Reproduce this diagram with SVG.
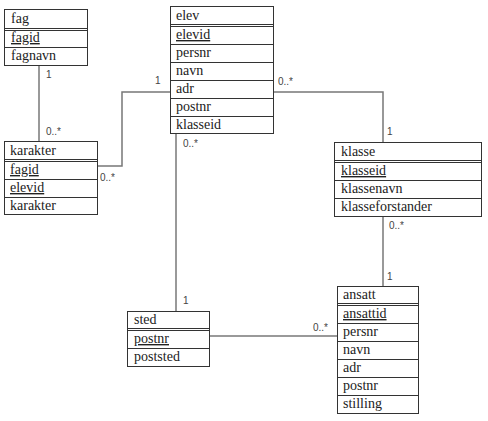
<svg xmlns="http://www.w3.org/2000/svg" width="488" height="421" viewBox="0 0 488 421">
<style>
.box{fill:#fff;stroke:#333;stroke-width:1}
.sep{stroke:#333;stroke-width:1;fill:none}
.t{font-family:"Liberation Serif","Times New Roman",serif;font-size:14px;fill:#222}
.u{text-decoration:underline}
.c{stroke:#777;stroke-width:1.5;fill:none}
.m{font-family:"Liberation Sans",Arial,sans-serif;font-size:10px;fill:#444}
</style>
<rect width="488" height="421" fill="#fff"/>
<g id="connectors">
<path class="c" d="M39 65V141"/>
<path class="c" d="M97 166H122V92H170"/>
<path class="c" d="M273 92H383V142"/>
<path class="c" d="M383 216V286"/>
<path class="c" d="M176 134V311"/>
<path class="c" d="M209 336H337"/>
<text class="m" x="46" y="78">1</text>
<text class="m" x="46" y="135">0..*</text>
<text class="m" x="155" y="84">1</text>
<text class="m" x="100" y="181">0..*</text>
<text class="m" x="183" y="147">0..*</text>
<text class="m" x="278" y="85">0..*</text>
<text class="m" x="387" y="135">1</text>
<text class="m" x="389" y="229">0..*</text>
<text class="m" x="387" y="280">1</text>
<text class="m" x="183" y="304">1</text>
<text class="m" x="313" y="331">0..*</text>
</g>
<g id="fag">
<rect class="box" x="4.5" y="9.5" width="83" height="56"/>
<path class="sep" d="M4.5 28.5H87.5M4.5 30.5H87.5M4.5 47.5H87.5"/>
<text class="t" x="11" y="23">fag</text>
<text class="t u" x="11" y="42">fagid</text>
<text class="t" x="11" y="60">fagnavn</text>
</g>
<g id="elev">
<rect class="box" x="170.5" y="6.5" width="103" height="127"/>
<path class="sep" d="M170.5 24.5H273.5M170.5 26.5H273.5M170.5 44.5H273.5M170.5 62.5H273.5M170.5 80.5H273.5M170.5 98.5H273.5M170.5 116.5H273.5"/>
<text class="t" x="176" y="20">elev</text>
<text class="t u" x="176" y="39">elevid</text>
<text class="t" x="176" y="57">persnr</text>
<text class="t" x="176" y="75">navn</text>
<text class="t" x="176" y="93">adr</text>
<text class="t" x="176" y="111">postnr</text>
<text class="t" x="176" y="129">klasseid</text>
</g>
<g id="karakter">
<rect class="box" x="4.5" y="141.5" width="93" height="73"/>
<path class="sep" d="M4.5 159.5H97.5M4.5 161.5H97.5M4.5 179.5H97.5M4.5 197.5H97.5"/>
<text class="t" x="10" y="155">karakter</text>
<text class="t u" x="10" y="174">fagid</text>
<text class="t u" x="10" y="192">elevid</text>
<text class="t" x="10" y="210">karakter</text>
</g>
<g id="klasse">
<rect class="box" x="334.5" y="142.5" width="147" height="74"/>
<path class="sep" d="M334.5 160.5H481.5M334.5 162.5H481.5M334.5 180.5H481.5M334.5 198.5H481.5"/>
<text class="t" x="341" y="156">klasse</text>
<text class="t u" x="341" y="175">klasseid</text>
<text class="t" x="341" y="193">klassenavn</text>
<text class="t" x="341" y="211">klasseforstander</text>
</g>
<g id="sted">
<rect class="box" x="127.5" y="311.5" width="82" height="55"/>
<path class="sep" d="M127.5 328.5H209.5M127.5 330.5H209.5M127.5 348.5H209.5"/>
<text class="t" x="134" y="324">sted</text>
<text class="t u" x="134" y="343">postnr</text>
<text class="t" x="134" y="361">poststed</text>
</g>
<g id="ansatt">
<rect class="box" x="337.5" y="286.5" width="81" height="127"/>
<path class="sep" d="M337.5 303.5H418.5M337.5 305.5H418.5M337.5 323.5H418.5M337.5 341.5H418.5M337.5 359.5H418.5M337.5 377.5H418.5M337.5 395.5H418.5"/>
<text class="t" x="343" y="299">ansatt</text>
<text class="t u" x="343" y="318">ansattid</text>
<text class="t" x="343" y="336">persnr</text>
<text class="t" x="343" y="354">navn</text>
<text class="t" x="343" y="372">adr</text>
<text class="t" x="343" y="390">postnr</text>
<text class="t" x="343" y="408">stilling</text>
</g>
</svg>
